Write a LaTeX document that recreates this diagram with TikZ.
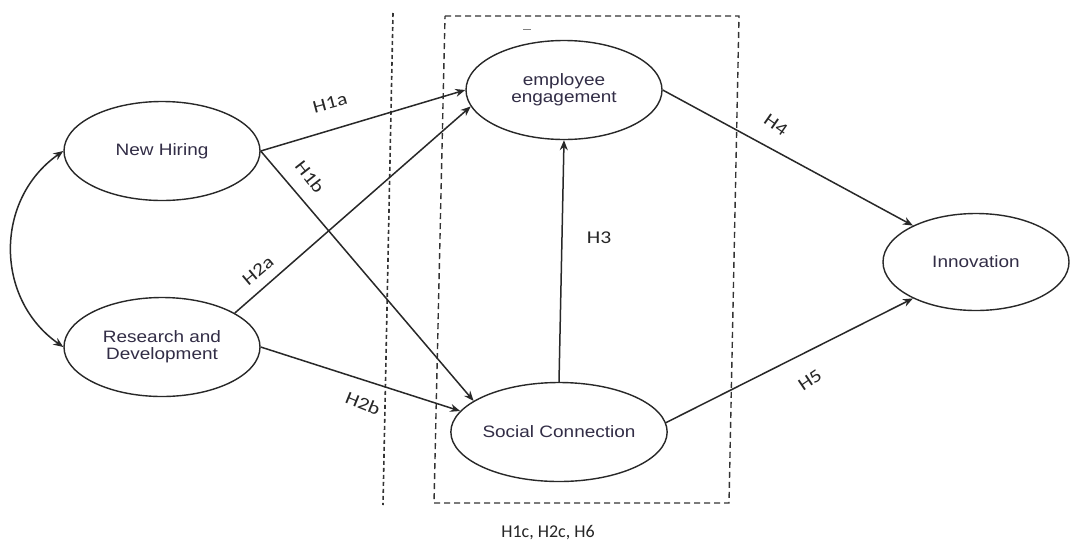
\documentclass[tikz,border=0pt]{standalone}
\usepackage{fontspec}
\usetikzlibrary{shapes.geometric,arrows.meta}
\newfontfamily\boxfont[FakeStretch=1.15]{Liberation Sans}
\newfontfamily\hypfont[FakeStretch=1.2]{Carlito}
\newfontfamily\notefont{Carlito}
\definecolor{linec}{RGB}{40,40,40}
\definecolor{textc}{RGB}{50,45,70}
\tikzset{>={Stealth[length=10pt,width=8pt]}}
\tikzset{
  latent/.style={ellipse,draw=linec,line width=1.4pt,minimum width=196pt,minimum height=99pt,
    inner sep=0pt,align=center,text=textc,font=\boxfont\fontsize{16.5}{17}\selectfont},
  hyp/.style={text=black!85,font=\hypfont\fontsize{18}{20}\selectfont,inner sep=0pt},
  path/.style={->,line width=1.5pt,draw=linec},
  split/.style={line width=1.6pt,draw=black!80,dash pattern=on 4pt off 3pt}
}

\begin{document}
\begin{tikzpicture}[x=1pt,y=-1pt]
    \useasboundingbox (0,0) rectangle (1070,544);
    \fill[white] (0,0) rectangle (1070,544);
    % constructs
    \node[latent] (nh) at (162,151) {New Hiring};
    \node[latent] (rd) at (162,347) {Research and\\Development};
    \node[latent] (ee) at (564,90) {employee\\engagement};
    \node[latent] (sc) at (559,432) {Social Connection};
    \node[latent,minimum width=186pt,minimum height=97pt] (inn) at (976,262) {Innovation};
    % mediator frame
    \draw[split] (393,13) -- (383,505);
    \draw[split,line width=1.4pt,dash pattern=on 6pt off 4pt] (445,16) -- (739,16) -- (729,503) -- (434,503) -- cycle;
    \draw[gray,line width=1pt] (523,29) -- (531,29);
    % paths
    \draw[<->,line width=1.5pt,draw=linec] (nh.west) to[out=215,in=145,looseness=1.1] (rd.west);
    \draw[path] (nh.east) -- (ee.west);
    \draw[path] (nh.east) -- (sc.160);
    \draw[path] (rd.25) -- (ee.190);
    \draw[path] (rd.east) -- (sc.168);
    \draw[path] (sc.north) -- (ee.south);
    \draw[path] (ee.east) -- (inn.150);
    \draw[path] (sc.5) -- (inn.210);
    % hypotheses
    \node[hyp,rotate=15] (h1a) at (330,103) {H1a};
    \node[hyp,rotate=-52] (h1b) at (310,177) {H1b};
    \node[hyp,rotate=40] (h2a) at (258,271) {H2a};
    \node[hyp,rotate=-22] (h2b) at (363,403) {H2b};
    \node[hyp] (h3) at (599,238) {H3};
    \node[hyp,rotate=-35] (h4) at (776,125) {H4};
    \node[hyp,rotate=34] (h5) at (810,380) {H5};
    \node[text=black!85,font=\notefont\fontsize{18}{20}\selectfont] (note) at (548,533) {H1c, H2c, H6};
\end{tikzpicture}
\end{document}
